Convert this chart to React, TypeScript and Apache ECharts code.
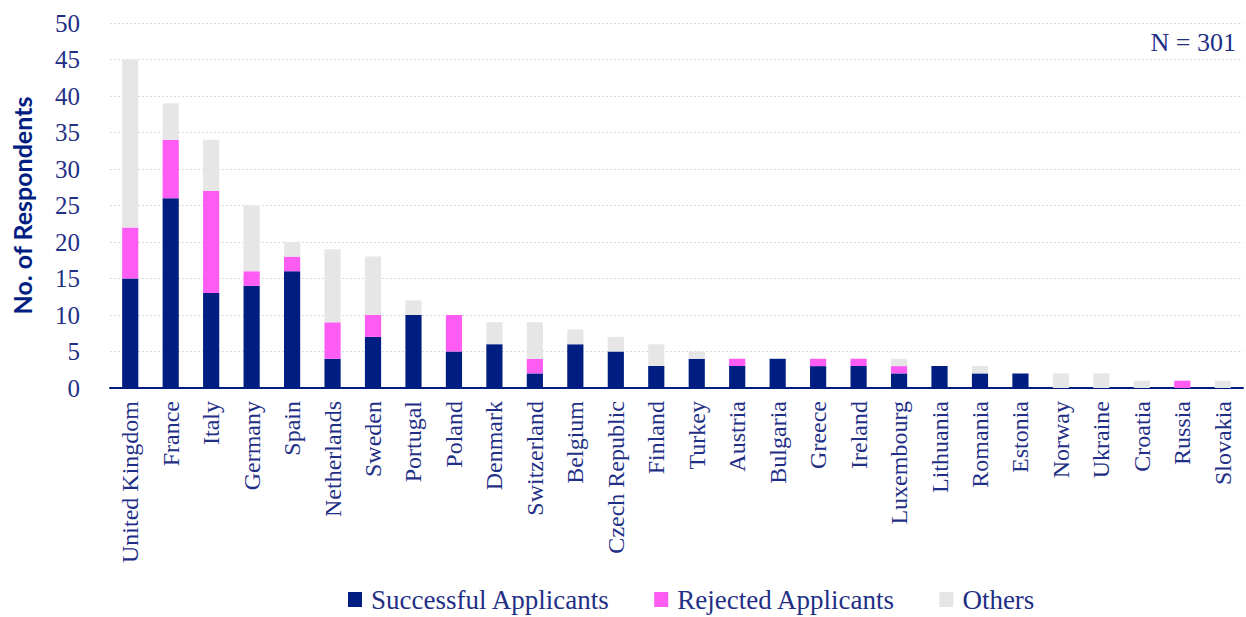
import React, { useEffect, useRef } from "react";
import * as echarts from "echarts";

const countries = ["United Kingdom","France","Italy","Germany","Spain","Netherlands","Sweden","Portugal","Poland","Denmark","Switzerland","Belgium","Czech Republic","Finland","Turkey","Austria","Bulgaria","Greece","Ireland","Luxembourg","Lithuania","Romania","Estonia","Norway","Ukraine","Croatia","Russia","Slovakia"];
const successful = [15,26,13,14,16,4,7,10,5,6,2,6,5,3,4,3,4,3,3,2,3,2,2,0,0,0,0,0];
const rejected = [7,8,14,2,2,5,3,0,5,0,2,0,0,0,0,1,0,1,1,1,0,0,0,0,0,0,1,0];
const others = [23,5,7,9,2,10,8,2,0,3,5,2,2,3,1,0,0,0,0,1,0,1,0,2,2,1,0,1];
const yTicks = { min: 0, max: 50, interval: 5 };
const nLabel = "N = 301";

const NAVY = "#001e82";
const TEXT = "#1f2f86";
const FONT = "'Liberation Serif', 'DejaVu Serif', serif";

export default function App() {
  const ref = useRef<HTMLDivElement>(null);
  useEffect(() => {
    if (!ref.current) return;
    const chart = echarts.init(ref.current, null, { renderer: "svg" });
    const mk = (name: string, data: number[], color: string) => ({
      name, type: "bar", stack: "all", data, barWidth: "40%",
      itemStyle: { color }, emphasis: { disabled: true },
    });
    chart.setOption({
      animation: false,
      grid: { left: 110, right: 3, top: 23, bottom: 229, containLabel: false },
      legend: {
        top: 581, left: 343, itemWidth: 14, itemHeight: 15, itemGap: 44,
        icon: "rect",
        textStyle: { fontFamily: FONT, fontSize: 27, color: TEXT, padding: [0, 0, 0, 4] },
        data: ["Successful Applicants", "Rejected Applicants", "Others"],
      },
      graphic: [{
        type: "text", right: 10, top: 29,
        style: { text: nLabel, fontFamily: FONT, fontSize: 26, fill: TEXT },
      }],
      xAxis: {
        type: "category", data: countries,
        axisLine: { lineStyle: { color: NAVY, width: 2 } },
        axisTick: { show: false },
        axisLabel: { rotate: 90, interval: 0, fontFamily: FONT, fontSize: 24, color: TEXT, margin: 13 },
      },
      yAxis: {
        type: "value", min: yTicks.min, max: yTicks.max, interval: yTicks.interval,
        name: "No. of Respondents", nameLocation: "middle", nameGap: 76,
        nameTextStyle: { fontFamily: "Lato, 'Open Sans', sans-serif", fontWeight: "bold", fontSize: 25, color: NAVY },
        axisLine: { show: false }, axisTick: { show: false },
        axisLabel: { fontFamily: FONT, fontSize: 25, color: TEXT, margin: 30 },
        splitLine: { lineStyle: { color: "#dcdcdc", type: [2, 2], width: 1 } },
      },
      series: [
        mk("Successful Applicants", successful, NAVY),
        mk("Rejected Applicants", rejected, "#ff5cf4"),
        mk("Others", others, "#e6e6e6"),
      ],
    });
    return () => chart.dispose();
  }, []);
  return <div ref={ref} style={{ position: "absolute", left: 0, top: 0, width: 1246, height: 617 }} />;
}
